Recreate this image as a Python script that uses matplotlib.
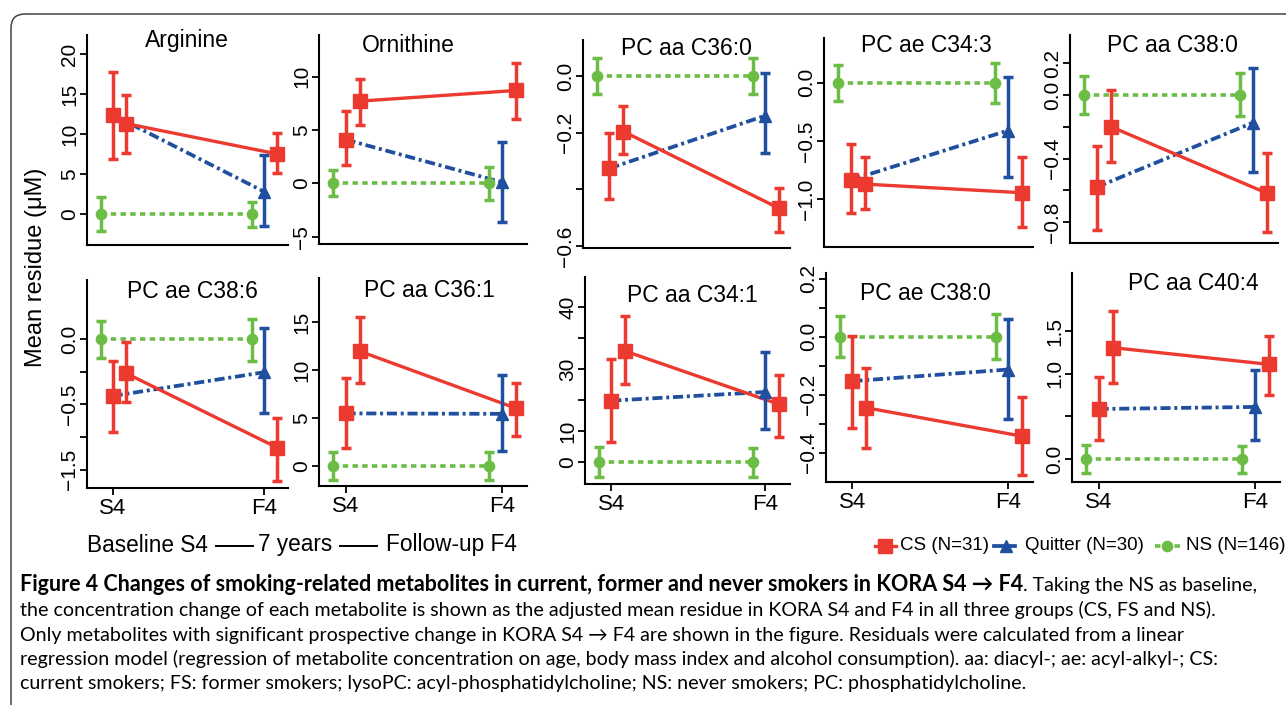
import matplotlib
matplotlib.use("Agg")
import matplotlib.pyplot as plt
from matplotlib.lines import Line2D
from matplotlib.patches import FancyBboxPatch
from matplotlib.transforms import IdentityTransform

plt.rcParams['font.family'] = ['Liberation Sans', 'DejaVu Sans']

# ---------------- data ----------------
metabolites = ["Arginine", "Ornithine", "PC aa C36:0", "PC ae C34:3", "PC aa C38:0",
               "PC ae C38:6", "PC aa C36:1", "PC aa C34:1", "PC ae C38:0", "PC aa C40:4"]
timepoints = ["S4", "F4"]

# current smokers: mean residue at (S4, F4), lower and upper error-bar ends
cs_mean = [[11.3, 7.5], [7.7, 8.7], [-0.196, -0.467], [-0.869, -0.943], [-0.199, -0.618],
           [-0.263, -0.832], [12.0, 6.03], [35.9, 18.7], [-0.245, -0.343], [1.305, 1.109]]
cs_low = [[7.6, 5.1], [5.5, 6.0], [-0.275, -0.549], [-1.083, -1.24], [-0.423, -0.863],
          [-0.48, -1.084], [8.64, 3.17], [25.2, 8.1], [-0.383, -0.477], [0.895, 0.75]]
cs_high = [[14.9, 10.1], [9.75, 11.3], [-0.105, -0.394], [-0.64, -0.64], [0.029, -0.364],
           [-0.026, -0.602], [15.6, 8.71], [47.2, 28.2], [-0.109, -0.207], [1.734, 1.445]]

# quitters
q_mean = [[12.4, 2.8], [4.1, 0.1], [-0.326, -0.14], [-0.834, -0.41], [-0.58, -0.174],
          [-0.436, -0.255], [5.5, 5.45], [19.9, 22.7], [-0.153, -0.113], [0.586, 0.61]]
q_low = [[6.9, -1.5], [1.7, -3.6], [-0.434, -0.27], [-1.12, -0.81], [-0.852, -0.482],
         [-0.709, -0.564], [1.92, 1.6], [6.7, 10.6], [-0.313, -0.282], [0.223, 0.223]]
q_high = [[17.8, 7.4], [6.8, 3.9], [-0.202, 0.01], [-0.529, 0.05], [-0.32, 0.168],
          [-0.168, 0.082], [9.23, 9.5], [33.3, 35.7], [0.003, 0.063], [0.957, 1.04]]

# never smokers (baseline)
ns_mean = [[0.0, 0.0], [0.0, 0.0], [0.0, 0.0], [0.0, 0.0], [0.0, 0.0],
           [0.0, 0.0], [0.0, 0.0], [0.0, 0.0], [0.0, 0.0], [0.0, 0.0]]
ns_low = [[-2.1, -1.6], [-1.2, -1.55], [-0.064, -0.065], [-0.157, -0.171], [-0.119, -0.13],
          [-0.148, -0.166], [-1.46, -1.46], [-4.8, -4.6], [-0.069, -0.077], [-0.168, -0.168]]
ns_high = [[2.1, 1.5], [1.2, 1.55], [0.062, 0.065], [0.151, 0.166], [0.121, 0.136],
           [0.138, 0.153], [1.43, 1.43], [4.8, 4.7], [0.072, 0.077], [0.164, 0.156]]

yticks = [[0, 5, 10, 15, 20], [-5, 0, 5, 10], [0.0, -0.2, -0.4, -0.6], [0.0, -0.5, -1.0],
          [0.2, 0.0, -0.2, -0.4, -0.6, -0.8], [0.0, -0.25, -0.5, -0.75, -1.0], [0, 5, 10, 15],
          [0, 10, 20, 30, 40, 50], [0.2, 0.1, 0.0, -0.1, -0.2, -0.3, -0.4], [0.0, 0.5, 1.0, 1.5]]
ytick_labels = [["0", "5", "10", "15", "20"], ["\u22125", "0", "5", "10"],
                ["0.0", "\u22120.2", "", "\u22120.6"], ["0.0", "\u22120.5", "\u22121.0"],
                ["0.2", "0.0", "", "\u22120.4", "", "\u22120.8"],
                ["0.0", "", "\u22120.5", "", "\u22121.5"], ["0", "5", "10", "15"],
                ["0", "10", "", "30", "", "40"],
                ["0.2", "", "0.0", "", "\u22120.2", "", "\u22120.4"],
                ["0.0", "", "1.0", "1.5"]]

legend_labels = ["CS (N=31)", "Quitter (N=30)", "NS (N=146)"]
ylabel = "Mean residue (\u03bcM)"
caption_bold = "Figure 4 Changes of smoking-related metabolites in current, former and never smokers in KORA S4 \u2192 F4"
caption_lines = [
    ". Taking the NS as baseline,",
    "the concentration change of each metabolite is shown as the adjusted mean residue in KORA S4 and F4 in all three groups (CS, FS and NS).",
    "Only metabolites with significant prospective change in KORA S4 \u2192 F4 are shown in the figure. Residuals were calculated from a linear",
    "regression model (regression of metabolite concentration on age, body mass index and alcohol consumption). aa: diacyl-; ae: acyl-alkyl-; CS:",
    "current smokers; FS: former smokers; lysoPC: acyl-phosphatidylcholine; NS: never smokers; PC: phosphatidylcholine.",
]

# ---------------- layout (pixels) ----------------
W, H = 1286, 705
boxes = [(87, 35, 288, 245), (319, 35, 527, 244), (583, 40, 790, 248), (824, 38, 1033, 247),
         (1070, 35, 1278, 243), (87, 280, 288, 488), (319, 278, 527, 486), (585, 277, 790, 484),
         (826, 273, 1033, 482), (1072, 273, 1280, 482)]
ylims = [(-3.9, 22.4), (-5.69, 13.9), (-0.607, 0.127), (-1.408, 0.383), (-0.931, 0.377),
         (-1.14, 0.451), (-2.09, 19.65), (-7.0, 59.8), (-0.501, 0.22), (-0.27, 2.18)]
title_pos = [(186.5, 47), (408.5, 52), (686.5, 55), (926.5, 52), (1172.5, 52),
             (192, 298), (429, 297), (692.5, 302), (925.5, 300), (1193.5, 290)]

RED = '#EC3A31'
BLUE = '#1F4F9E'
GREEN = '#6BBD45'
DOTTED = (0, (1.5, 1.2))
DASHDOT = (0, (2.7, 1.0, 0.8, 1.0))


def fx(x):
    return x / W


def fy(y):
    return 1 - y / H


fig = plt.figure(figsize=(W / 100, H / 100), dpi=100)
fig.patch.set_facecolor('white')

off_ns, off_q, off_cs = -0.08, 0.0, 0.09
err_kw = dict(capsize=3.7, capthick=2.5, elinewidth=2.5, linestyle='none', zorder=4)

for i, name in enumerate(metabolites):
    l, t, r, b = boxes[i]
    ax = fig.add_axes([fx(l), fy(b), (r - l) / W, (b - t) / H])
    ax.set_xlim(-0.17, 1.16)
    ax.set_ylim(*ylims[i])
    for s in ('top', 'right'):
        ax.spines[s].set_visible(False)
    for s in ('left', 'bottom'):
        ax.spines[s].set_linewidth(1.5)
    ax.patch.set_alpha(0)

    xs = [0, 1]
    x_ns = [x + off_ns for x in xs]
    x_q = [x + off_q for x in xs]
    x_cs = [x + off_cs for x in xs]

    ax.plot(x_ns, ns_mean[i], color=GREEN, lw=2.6, ls=DOTTED, zorder=2)
    ax.plot(x_q, q_mean[i], color=BLUE, lw=2.7, ls=DASHDOT, zorder=2)
    ax.plot(x_cs, cs_mean[i], color=RED, lw=2.4, zorder=3)

    for k in range(2):
        m = ns_mean[i][k]
        ax.errorbar([x_ns[k]], [m], yerr=[[m - ns_low[i][k]], [ns_high[i][k] - m]],
                    fmt='o', ms=7.4, color=GREEN, **err_kw)
    # quitters: smokers at S4 (red square), quitters at F4 (blue triangle)
    m = q_mean[i][0]
    ax.errorbar([x_q[0]], [m], yerr=[[m - q_low[i][0]], [q_high[i][0] - m]],
                fmt='s', ms=9.6, color=RED, **err_kw)
    m = q_mean[i][1]
    ax.errorbar([x_q[1]], [m], yerr=[[m - q_low[i][1]], [q_high[i][1] - m]],
                fmt='^', ms=9.0, color=BLUE, **err_kw)
    for k in range(2):
        m = cs_mean[i][k]
        ax.errorbar([x_cs[k]], [m], yerr=[[m - cs_low[i][k]], [cs_high[i][k] - m]],
                    fmt='s', ms=9.6, color=RED, **err_kw)

    ax.set_yticks(yticks[i])
    ax.set_yticklabels(ytick_labels[i], rotation=90, va='center')
    ax.tick_params(axis='y', length=5, width=1.3, pad=0.5, labelsize=15)
    if i >= 5:
        ax.set_xticks(xs)
        ax.set_xticklabels(timepoints)
        ax.tick_params(axis='x', length=5, width=1.3, pad=2, labelsize=16)
    else:
        ax.set_xticks([])

    tx, ty = title_pos[i]
    fig.text(fx(tx), fy(ty), name, ha='center', va='baseline', fontsize=16.5)

# y label
fig.text(fx(36), fy(267), ylabel, rotation=90, ha='center', va='center', fontsize=17)

# timeline text
yb = 545
fig.text(fx(87), fy(yb), "Baseline S4", ha='left', va='center', fontsize=16.3)
fig.text(fx(258), fy(yb), "7 years", ha='left', va='center', fontsize=16.3)
fig.text(fx(386), fy(yb), "Follow-up F4", ha='left', va='center', fontsize=16.3)
for x0, x1 in [(216, 253), (340, 377)]:
    fig.add_artist(Line2D([fx(x0), fx(x1)], [fy(yb + 1)] * 2, color='black', lw=1.4))

# legend
ly = 546
fig.add_artist(Line2D([fx(875), fx(896)], [fy(ly)] * 2, color=RED, lw=2.4))
fig.add_artist(Line2D([fx(885)], [fy(ly)], color=RED, marker='s', ms=9.6, ls='none'))
fig.text(fx(900), fy(ly), legend_labels[0], ha='left', va='center', fontsize=13.5)
fig.add_artist(Line2D([fx(994), fx(1015)], [fy(ly)] * 2, color=BLUE, lw=2.7))
fig.add_artist(Line2D([fx(1006)], [fy(ly)], color=BLUE, marker='^', ms=9.0, ls='none'))
fig.text(fx(1025), fy(ly), legend_labels[1], ha='left', va='center', fontsize=13.5)
fig.add_artist(Line2D([fx(1155), fx(1180)], [fy(ly)] * 2, color=GREEN, lw=2.6, ls=DOTTED))
fig.add_artist(Line2D([fx(1167)], [fy(ly)], color=GREEN, marker='o', ms=7.4, ls='none'))
fig.text(fx(1186), fy(ly), legend_labels[2], ha='left', va='center', fontsize=13.5)

# frame
frame = FancyBboxPatch((11, -20), 1320, H - 14 + 20,
                       boxstyle="round,pad=0,rounding_size=14",
                       transform=IdentityTransform(), fill=False, ec='#444444', lw=1.1)
fig.add_artist(frame)

# caption: regular size fitted to line 2 width, bold size fitted to fill line 1
cap_family = ['Lato', 'DejaVu Sans']
baselines = [591, 616, 640.5, 665, 689.5]
fs0 = 13.0
renderer = fig.canvas.get_renderer()
cap_texts = []
for j in range(1, 5):
    cap_texts.append(fig.text(fx(20), fy(baselines[j]), caption_lines[j], fontsize=fs0,
                              family=cap_family, ha='left', va='baseline'))
w2 = cap_texts[0].get_window_extent(renderer).width
fs_r = fs0 * 1195 / w2
for t in cap_texts:
    t.set_fontsize(fs_r)
tr = fig.text(fx(20), fy(baselines[0]), caption_lines[0], fontsize=fs_r,
              family=cap_family, ha='left', va='baseline')
wr = tr.get_window_extent(renderer).width
tb = fig.text(fx(20), fy(baselines[0]), caption_bold, fontsize=fs0, fontweight='bold',
              family=cap_family, ha='left', va='baseline')
wb = tb.get_window_extent(renderer).width
fs_b = fs0 * (1259 - 20 - wr) / wb
tb.set_fontsize(fs_b)
wb = tb.get_window_extent(renderer).width
tr.set_x(fx(20 + wb))

fig.savefig("out.png", dpi=100, facecolor='white')
